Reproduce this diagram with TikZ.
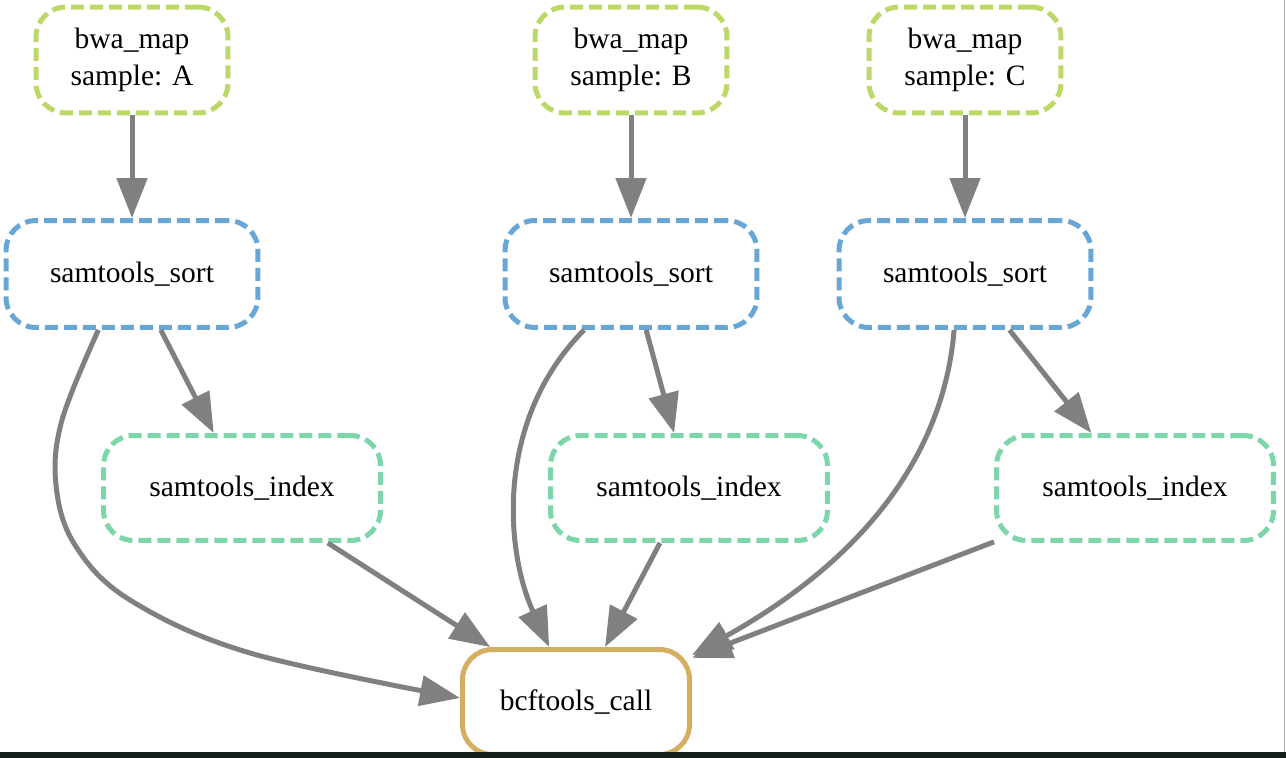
\documentclass[tikz,border=0pt]{standalone}
\usepackage{fontspec}
\setmainfont{Liberation Serif}
\usepackage{xcolor}
\usepackage{tikz}
\usetikzlibrary{shapes,arrows.meta,positioning}

\definecolor{mapgreen}{RGB}{188,216,102}
\definecolor{sortblue}{RGB}{104,167,213}
\definecolor{indexteal}{RGB}{125,213,170}
\definecolor{callgold}{RGB}{212,175,98}
\definecolor{edgegrey}{RGB}{128,128,128}
\definecolor{barblack}{RGB}{22,29,29}

\begin{document}
\begin{tikzpicture}[
                x=0.02cm, y=-0.02cm,
                rule/.style={
                    rectangle,
                    rounded corners=0.6cm,
                    line width=0.1cm,
                    dash pattern=on 0.26cm off 0.12cm,
                    font=\fontsize{16.8}{21}\selectfont,
                    align=center,
                    minimum height=2.12cm
                },
                mapbox/.style={rule, draw=mapgreen, minimum width=3.84cm},
                sortbox/.style={rule, draw=sortblue, minimum width=5.04cm, minimum height=2.14cm},
                indexbox/.style={rule, draw=indexteal, minimum width=5.54cm, minimum height=2.1cm},
                callbox/.style={rule, solid, draw=callgold, minimum width=4.54cm, minimum height=2.1cm},
                edge/.style={
                    draw=edgegrey,
                    line width=0.1cm,
                    -{Triangle[length=0.8cm, width=0.6cm]}
                }
            ]
                \useasboundingbox (0,0) rectangle (1286,758);

                % rules
                \node[mapbox] (mapA) at (132,60) {bwa\_map\\sample: A};
                \node[mapbox] (mapB) at (631,60) {bwa\_map\\sample: B};
                \node[mapbox] (mapC) at (965,60) {bwa\_map\\sample: C};

                \node[sortbox] (sortA) at (132,274) {samtools\_sort};
                \node[sortbox] (sortB) at (631,274) {samtools\_sort};
                \node[sortbox] (sortC) at (965,274) {samtools\_sort};

                \node[indexbox] (indexA) at (242,488) {samtools\_index};
                \node[indexbox] (indexB) at (689,488) {samtools\_index};
                \node[indexbox] (indexC) at (1135,488) {samtools\_index};

                \node[callbox] (call) at (576,702) {bcftools\_call};

                % edges
                \draw[edge] (mapA) -- (sortA);
                \draw[edge] (mapB) -- (sortB);
                \draw[edge] (mapC) -- (sortC);

                \draw[edge] (sortA) -- (indexA);
                \draw[edge] (sortB) -- (indexB);
                \draw[edge] (sortC) -- (indexC);

                \draw[edge] (indexA) -- (call);
                \draw[edge] (indexB) -- (call);
                \draw[edge] (indexC) -- (call);

                \draw[edge] plot[smooth, tension=0.6] coordinates {(sortA.239) (62,420) (56,485) (75,545) (130,600) (250,653) (call.178)};
                \draw[edge] (sortB.230) .. controls (495,420) and (505,550) .. (call.116);
                \draw[edge] (sortC.259) .. controls (945,440) and (880,550) .. (call.22);

                % window edge
                \fill[barblack] (0,752) rectangle (1286,758);
                \draw[edgegrey!60, line width=0.02cm] (1284.5,0) -- (1284.5,752);

             \end{tikzpicture}
\end{document}
